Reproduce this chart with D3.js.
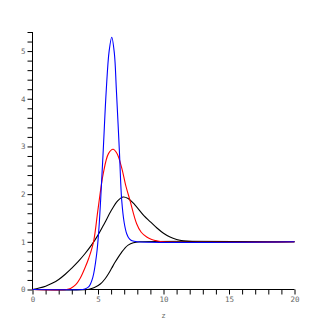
<!DOCTYPE html>
<html><head><meta charset="utf-8">
<script src="https://cdn.jsdelivr.net/npm/d3@7"></script>
<style>body{margin:0;background:#fff}svg{display:block}</style>
</head><body>
<script>
const xTickLabels = [0, 5, 10, 15, 20];
const yTickLabels = [0, 1, 2, 3, 4, 5];
const xLabel = "z";

const blueZ = [0, 3.8, 4.0, 4.3, 4.6, 4.9, 5.05, 5.2, 5.4, 5.63, 5.85, 6.05, 6.25, 6.4, 6.63, 6.81, 7.0, 7.19, 7.4, 7.6, 8.0, 20];
const blueV = [0, 0, 0.01, 0.06, 0.25, 0.75, 1.2, 1.87, 2.92, 4.18, 5.0, 5.29, 4.95, 4.2, 2.92, 1.87, 1.4, 1.17, 1.06, 1.02, 1.0, 1.0];

const redZ = [0, 2.6, 2.9, 3.3, 3.63, 4.0, 4.3, 4.66, 5.0, 5.4, 5.8, 6.15, 6.45, 6.81, 7.1, 7.44, 7.95, 8.3, 8.72, 9.1, 9.5, 10, 20];
const redV = [0, 0, 0.02, 0.1, 0.23, 0.45, 0.66, 1.0, 1.68, 2.43, 2.85, 2.94, 2.85, 2.55, 2.2, 1.87, 1.38, 1.2, 1.1, 1.05, 1.02, 1.0, 1.0];

const broadZ = [0, 0.5, 1, 1.5, 2, 2.5, 3, 3.5, 4, 4.5, 5, 5.5, 6, 6.5, 6.9, 7.3, 7.8, 8.5, 9, 9.5, 10, 10.5, 11, 11.5, 12.5, 20];
const broadV = [0, 0.03, 0.07, 0.13, 0.21, 0.32, 0.45, 0.59, 0.75, 0.93, 1.14, 1.39, 1.65, 1.86, 1.94, 1.91, 1.78, 1.55, 1.42, 1.29, 1.18, 1.1, 1.05, 1.02, 1.0, 1.0];

const sigZ = [0, 4.2, 4.5, 4.8, 5.2, 5.53, 5.8, 6.05, 6.3, 6.55, 6.8, 7.06, 7.3, 7.7, 8.2, 20];
const sigV = [0, 0, 0.02, 0.05, 0.12, 0.22, 0.33, 0.45, 0.57, 0.68, 0.78, 0.87, 0.93, 0.98, 1.0, 1.0];

const W = 327, H = 327;
const svg = d3.select("body").append("svg").attr("width", W).attr("height", H);
svg.append("rect").attr("width", W).attr("height", H).attr("fill", "#fff");

const x = d3.scaleLinear().domain([0, 20]).range([32.5, 294.5]);
const y = d3.scaleLinear().domain([0, 5.4]).range([289.5, 32]);

const font = "'DejaVu Sans Mono', monospace";

// x axis
const xAxis = d3.axisBottom(x).tickValues(d3.range(0, 21, 1)).tickSize(5).tickPadding(2)
  .tickFormat(d => xTickLabels.includes(d) ? d : "");
const gx = svg.append("g").attr("transform", `translate(0,${y(0)})`).call(xAxis);
gx.select(".domain").attr("d", `M${x(0)},0H${x(20)}`).attr("stroke", "#000");
gx.selectAll("text").attr("font-family", font).attr("font-size", 7.5).attr("fill", "#666");

// y axis
const yAxis = d3.axisLeft(y).tickValues(d3.range(0, 5.41, 0.2).map(v => +v.toFixed(1))).tickSize(5).tickPadding(2)
  .tickFormat(d => yTickLabels.includes(d) ? d : "");
const gy = svg.append("g").attr("transform", `translate(${x(0)},0)`).call(yAxis);
gy.select(".domain").attr("d", `M0,${y(0)}V${y(5.4)}`).attr("stroke", "#000");
gy.selectAll("text").attr("font-family", font).attr("font-size", 7.5).attr("fill", "#666");

svg.append("text").attr("x", x(10)).attr("y", 318).attr("text-anchor", "middle")
  .attr("font-family", font).attr("font-size", 7.5).attr("fill", "#666").text(xLabel);

const line = d3.line().x(d => x(d[0])).y(d => y(d[1])).curve(d3.curveCatmullRom.alpha(0.5));
const series = [
  [broadZ, broadV, "#000"],
  [sigZ, sigV, "#000"],
  [redZ, redV, "#ff0000"],
  [blueZ, blueV, "#0000ff"]
];
series.forEach(([zs, vs, c]) => {
  svg.append("path").datum(zs.map((z, i) => [z, vs[i]]))
    .attr("d", line).attr("fill", "none").attr("stroke", c).attr("stroke-width", 1.1);
});
</script>
</body></html>
